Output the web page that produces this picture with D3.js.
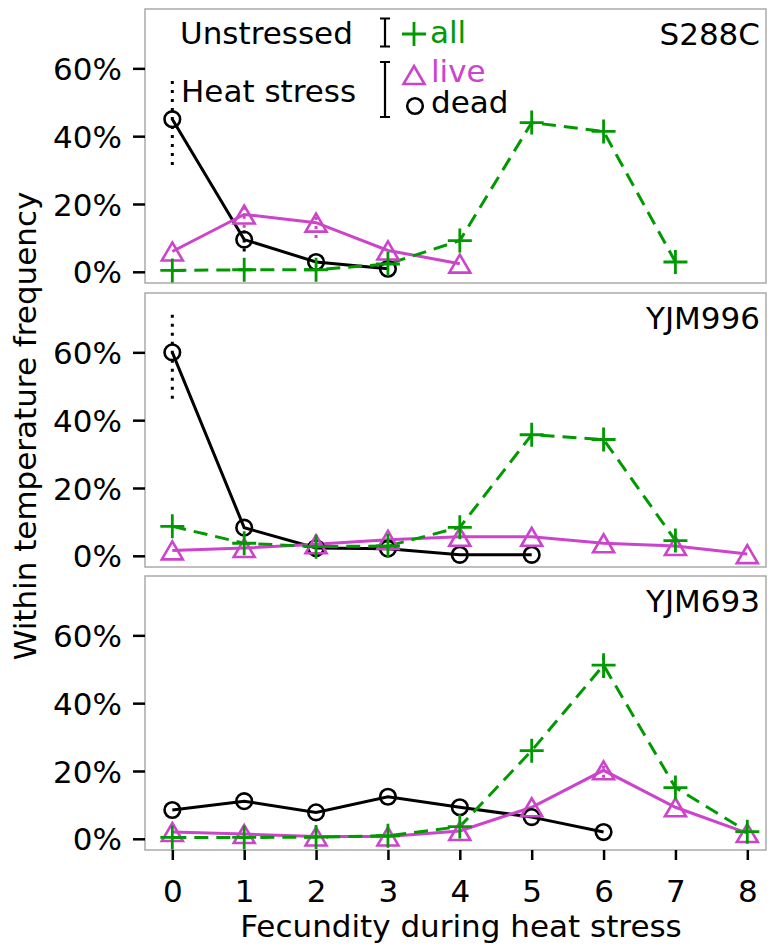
<!DOCTYPE html>
<html>
<head>
<meta charset="utf-8">
<script src="https://cdn.jsdelivr.net/npm/d3@7/dist/d3.min.js"></script>
<style>
  html, body { margin: 0; padding: 0; background: #fff; }
  svg text { font-family: "DejaVu Sans", sans-serif; }
</style>
</head>
<body>
<svg id="chart" width="768" height="945"></svg>
<script>
// ---------------- DATA ----------------
const fecundity = [0, 1, 2, 3, 4, 5, 6, 7, 8];
const strains = ["S288C", "YJM996", "YJM693"];
const yTicks = [0, 0.2, 0.4, 0.6];

// values in percent, indexed by fecundity 0..n
const deadS288C  = [45.0, 9.5, 2.9, 0.9];
const liveS288C  = [6.0, 16.9, 14.5, 6.3, 2.4];
const allS288C   = [0.4, 0.6, 0.6, 2.3, 9.2, 44.0, 41.4, 2.9];

const deadYJM996 = [60.0, 8.3, 2.3, 2.1, 0.3, 0.3];
const liveYJM996 = [1.6, 2.3, 3.4, 4.7, 5.6, 5.6, 3.7, 2.9, 0.5];
const allYJM996  = [8.7, 3.7, 2.7, 2.9, 8.4, 35.7, 34.3, 4.5];

const deadYJM693 = [8.5, 11.1, 7.8, 12.4, 9.3, 6.4, 2.0];
const liveYJM693 = [2.0, 1.4, 0.7, 0.7, 2.3, 9.3, 20.2, 9.3, 1.7];
const allYJM693  = [0.4, 0.4, 0.5, 0.9, 3.6, 26.0, 51.2, 15.1, 2.1];

// error bar extents [fecundity, low%, high%]
const deadErrS288C  = [[0, 31.5, 57.3], [1, 6.0, 12.5]];
const liveErrS288C  = [[1, 13.0, 20.5], [2, 10.0, 17.5]];
const allErrS288C   = [];
const deadErrYJM996 = [[0, 46.3, 72.2]];
const liveErrYJM996 = [];
const allErrYJM996  = [];
const deadErrYJM693 = [];
const liveErrYJM693 = [[6, 18.0, 23.0]];
const allErrYJM693  = [[6, 47.4, 54.7]];

const seriesNames = ["dead", "live", "all"];
const seriesColors = { all: "#009a00", live: "#cc44cc", dead: "#000000" };

// ---------------- BUILD ----------------
const table = {
  S288C:  { dead: deadS288C,  live: liveS288C,  all: allS288C,
            err: { dead: deadErrS288C,  live: liveErrS288C,  all: allErrS288C } },
  YJM996: { dead: deadYJM996, live: liveYJM996, all: allYJM996,
            err: { dead: deadErrYJM996, live: liveErrYJM996, all: allErrYJM996 } },
  YJM693: { dead: deadYJM693, live: liveYJM693, all: allYJM693,
            err: { dead: deadErrYJM693, live: liveErrYJM693, all: allErrYJM693 } }
};

const svg = d3.select("#chart");
const FONT = 31;
const left = 145, right = 766;
const panelTops = [9, 293, 576];
const panelH = 274;

const x = d3.scaleLinear().domain([-0.38, 8.26]).range([left, right]);

function triPath(cx, cy) {
  const w = 10.5, h = 9;
  return `M${cx},${cy - h}L${cx + w},${cy + h}L${cx - w},${cy + h}Z`;
}
function plusPath(cx, cy) {
  const a = 12;
  return `M${cx - a},${cy}H${cx + a}M${cx},${cy - a}V${cy + a}`;
}
function drawMarker(g, kind, cx, cy) {
  if (kind === "dead") {
    g.append("circle").attr("cx", cx).attr("cy", cy).attr("r", 7.8)
      .attr("fill", "none").attr("stroke", seriesColors.dead).attr("stroke-width", 2.6);
  } else if (kind === "live") {
    g.append("path").attr("d", triPath(cx, cy))
      .attr("fill", "none").attr("stroke", seriesColors.live).attr("stroke-width", 2.6);
  } else {
    g.append("path").attr("d", plusPath(cx, cy))
      .attr("fill", "none").attr("stroke", seriesColors.all).attr("stroke-width", 2.8);
  }
}

strains.forEach((s, i) => {
  const top = panelTops[i];
  const y = d3.scaleLinear().domain([-0.033, 0.775]).range([top + panelH, top]);
  const g = svg.append("g");

  // frame
  g.append("rect").attr("x", left).attr("y", top).attr("width", right - left).attr("height", panelH)
    .attr("fill", "none").attr("stroke", "#aaaaaa").attr("stroke-width", 1.5);

  // y axis
  const ay = g.append("g").attr("transform", `translate(${left},0)`)
    .call(d3.axisLeft(y).tickValues(yTicks).tickFormat(d3.format(".0%")).tickSize(12).tickPadding(11));
  ay.select(".domain").remove();
  ay.selectAll(".tick line").attr("stroke", "#000").attr("stroke-width", 2.5);
  ay.selectAll(".tick text").attr("font-size", FONT).attr("fill", "#000")
    .attr("font-family", "DejaVu Sans").attr("dy", "0.36em");

  // panel title
  g.append("text").attr("x", 760).attr("y", top + 36).attr("text-anchor", "end")
    .attr("font-size", FONT).attr("fill", "#000").text(s);

  const data = table[s];
  const line = d3.line().x(d => x(d[0])).y(d => y(d[1] / 100));

  // lines
  seriesNames.forEach(k => {
    const pts = data[k].map((v, j) => [fecundity[j], v]);
    g.append("path").datum(pts).attr("d", line).attr("fill", "none")
      .attr("stroke", seriesColors[k]).attr("stroke-width", 3)
      .attr("stroke-dasharray", k === "all" ? "14,8" : null);
  });
  // error bars (dotted)
  seriesNames.forEach(k => {
    data.err[k].forEach(e => {
      g.append("line").attr("x1", x(e[0])).attr("x2", x(e[0]))
        .attr("y1", y(e[1] / 100)).attr("y2", y(e[2] / 100))
        .attr("stroke", seriesColors[k]).attr("stroke-width", 3)
        .attr("stroke-dasharray", "3,6");
    });
  });
  // markers
  seriesNames.forEach(k => {
    data[k].forEach((v, j) => drawMarker(g, k, x(fecundity[j]), y(v / 100)));
  });

  // x axis on bottom panel
  if (i === strains.length - 1) {
    const ax = g.append("g").attr("transform", `translate(0,${top + panelH})`)
      .call(d3.axisBottom(x).tickValues(fecundity).tickFormat(d3.format("d")).tickSize(10).tickPadding(20));
    ax.select(".domain").remove();
    ax.selectAll(".tick line").attr("stroke", "#000").attr("stroke-width", 2.5);
    ax.selectAll(".tick text").attr("font-size", FONT).attr("fill", "#000")
      .attr("font-family", "DejaVu Sans");
  }
});

// axis titles
svg.append("text").attr("x", 461).attr("y", 937).attr("text-anchor", "middle")
  .attr("font-size", FONT).attr("fill", "#000").text("Fecundity during heat stress");
svg.append("text").attr("transform", "translate(36,426) rotate(-90)").attr("text-anchor", "middle")
  .attr("font-size", FONT).attr("fill", "#000").text("Within temperature frequency");

// legend
const lg = svg.append("g");
function bracket(xc, y1, y2) {
  lg.append("path").attr("d", `M${xc - 5},${y1}H${xc + 5}M${xc},${y1}V${y2}M${xc - 5},${y2}H${xc + 5}`)
    .attr("fill", "none").attr("stroke", "#000").attr("stroke-width", 2.2);
}
lg.append("text").attr("x", 180).attr("y", 44).attr("font-size", FONT).attr("fill", "#000").text("Unstressed");
bracket(385, 18.5, 46.5);
drawMarker(lg, "all", 414, 34);
lg.append("text").attr("x", 430).attr("y", 43).attr("font-size", FONT).attr("fill", seriesColors.all).text("all");

lg.append("text").attr("x", 181).attr("y", 101.5).attr("font-size", FONT).attr("fill", "#000").text("Heat stress");
bracket(385, 62, 117);
drawMarker(lg, "live", 414, 75);
lg.append("text").attr("x", 431).attr("y", 82).attr("font-size", FONT).attr("fill", seriesColors.live).text("live");
drawMarker(lg, "dead", 415, 106);
lg.append("text").attr("x", 431).attr("y", 113).attr("font-size", FONT).attr("fill", "#000").text("dead");
</script>
</body>
</html>
